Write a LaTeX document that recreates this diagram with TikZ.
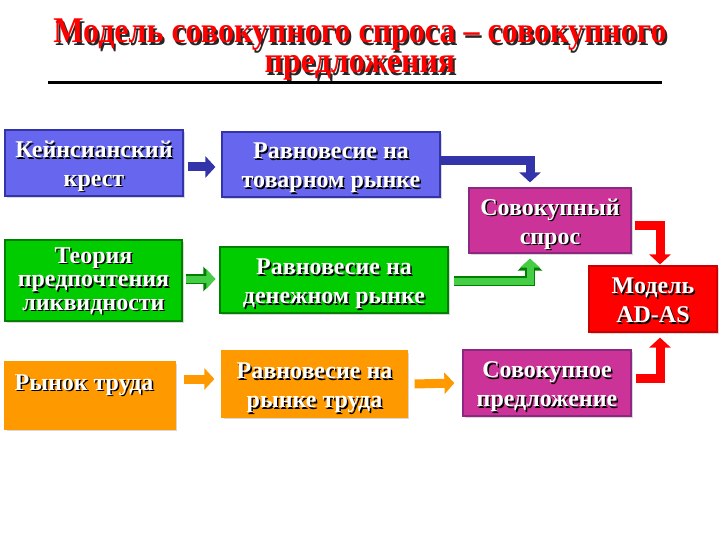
\documentclass[tikz,border=0pt]{standalone}
\usepackage{fontspec}
\setmainfont{Liberation Serif}
\usetikzlibrary{arrows.meta,shadows}
\definecolor{kblue}{RGB}{102,102,238}
\definecolor{kblueD}{RGB}{51,51,170}
\definecolor{kgreen}{RGB}{0,204,0}
\definecolor{kgreenD}{RGB}{0,128,0}
\definecolor{kagreen}{RGB}{70,205,70}
\definecolor{kmag}{RGB}{204,51,153}
\definecolor{kmagD}{RGB}{140,40,130}
\definecolor{korange}{RGB}{255,153,0}
% текст с тенью
\newcommand{\sh}[1]{\rlap{\kern1.5pt\raisebox{-1.5pt}{\color{black}#1}}#1}
\newcommand{\tsh}[1]{\scalebox{1}[1.13]{\rlap{\kern2pt\raisebox{-1.8pt}{\color{black!85}#1}}#1}}
\begin{document}
\begin{tikzpicture}[x=1pt, y=-1pt,
  box/.style={draw, line width=1.2pt, text=white, align=center, inner sep=0pt,
    font=\bfseries\fontsize{24}{29}\selectfont, text height=52pt, text depth=5pt,
    drop shadow={shadow xshift=2pt, shadow yshift=-2pt, fill=black!30}},
  barrow/.style={line width=9pt, line join=miter,
    -{Triangle[length=10pt, width=21pt]}},
  garrow/.style={line width=7pt, line join=miter, kagreen,
    preaction={draw=kgreenD, line width=10pt, -{Triangle[length=12pt, width=24pt]}},
    -{Triangle[length=9pt, width=19pt]}}]
  \useasboundingbox (0,0) rectangle (720,540);
  % заголовок
  \node[text=red, anchor=base, font=\bfseries\fontsize{32}{32}\selectfont] (title1) at (360,43)
    {\tsh{Модель совокупного спроса – совокупного}};
  \node[text=red, anchor=base, font=\bfseries\fontsize{32}{32}\selectfont] (title2) at (360,73)
    {\tsh{предложения}};
  \draw[line width=3pt] (48,83) -- (662,83);
  % первый ряд
  \node[box, fill=kblue, draw=kblueD, minimum width=178pt, minimum height=66pt] (kc) at (94,163)
    {\sh{Кейнсианский}\\\sh{крест}};
  \node[box, fill=kblue, draw=kblueD, minimum width=218pt, minimum height=65pt] (goods) at (331,164.5)
    {\sh{Равновесие на}\\\sh{товарном рынке}};
  \node[box, fill=kmag, draw=kmagD, minimum width=162pt, minimum height=65pt] (ad) at (550,220.5)
    {\sh{Совокупный}\\\sh{спрос}};
  % второй ряд
  \node[box, fill=kgreen, draw=kgreenD, minimum width=177pt, minimum height=81pt,
    font=\bfseries\fontsize{24}{23.5}\selectfont, text height=64pt] (lp) at (93.5,280.5)
    {\sh{Теория}\\\sh{предпочтения}\\\sh{ликвидности}};
  \node[box, fill=kgreen, draw=kgreenD, minimum width=228pt, minimum height=66pt] (money) at (334,280)
    {\sh{Равновесие на}\\\sh{денежном рынке}};
  \node[box, fill=red, draw=red!80!black, minimum width=128pt, minimum height=66pt] (model) at (653,299)
    {\sh{Модель}\\\sh{AD-AS}};
  % третий ряд
  \node[box, fill=korange, draw=korange, minimum width=170pt, minimum height=67pt] (labor) at (90,395.5) {};
  \node[text=white, anchor=base west, font=\bfseries\fontsize{24}{29}\selectfont, inner sep=0pt]
    (labortxt) at ([xshift=10pt, yshift=5.5pt]labor.west) {\sh{Рынок труда}};
  \node[box, fill=korange, draw=korange, minimum width=185pt, minimum height=66pt] (laboreq) at (314.5,384)
    {\sh{Равновесие на}\\\sh{рынке труда}};
  \node[box, fill=kmag, draw=kmagD, minimum width=168pt, minimum height=66pt] (as) at (547,383)
    {\sh{Совокупное}\\\sh{предложение}};
  % стрелки
  \draw[barrow, kblueD] ([xshift=4pt, yshift=-4pt]kc.east) -- ([xshift=-6pt, yshift=-2.5pt]goods.west);
  \draw[barrow, kblueD] ([yshift=3.5pt]goods.east) -| ([xshift=-20pt, yshift=5pt]ad.north);
  \draw[garrow] ([xshift=3pt, yshift=1.5pt]lp.east) -- ([xshift=-4pt, yshift=1pt]money.west);
  \draw[garrow] ([xshift=5pt, yshift=-1pt]money.east) -| ([xshift=-20pt, yshift=-5pt]ad.south);
  \draw[barrow, korange] ([xshift=8pt, yshift=16.5pt]labor.east) -- ([xshift=-7pt, yshift=5pt]laboreq.west);
  \draw[barrow, korange] ([xshift=7pt]laboreq.east) -- ([xshift=-8pt]as.west);
  \draw[barrow, red] ([xshift=3pt, yshift=-5.5pt]ad.east) -| ([xshift=7pt, yshift=1pt]model.north);
  \draw[barrow, red] ([xshift=4pt, yshift=5pt]as.east) -| ([xshift=7pt, yshift=-5pt]model.south);
\end{tikzpicture}
\end{document}
